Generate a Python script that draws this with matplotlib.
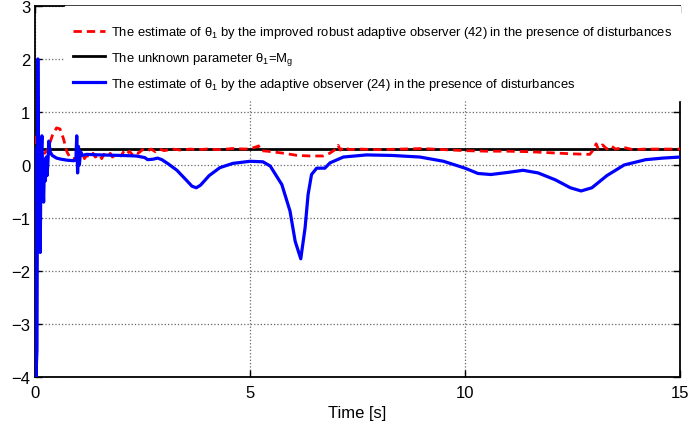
import numpy as np
import matplotlib
matplotlib.use('Agg')
import matplotlib.pyplot as plt

# blue: estimate by the adaptive observer (24)
t_blue = [0.00, 0.02, 0.045, 0.065, 0.085, 0.10, 0.12, 0.14, 0.16, 0.18,
          0.20, 0.22, 0.24, 0.26, 0.28, 0.30, 0.32, 0.35, 0.40, 0.50,
          0.60, 0.75, 0.90, 0.95, 0.97, 0.99, 1.01, 1.03, 1.06, 1.10,
          1.20, 1.50, 2.00, 2.35, 2.55, 2.62, 2.75, 2.85, 2.95, 3.10,
          3.30, 3.50, 3.65, 3.75, 3.85, 4.05, 4.30, 4.60, 5.00, 5.30,
          5.47, 5.74, 5.93, 6.05, 6.18, 6.28, 6.35, 6.43, 6.55, 6.74,
          6.86, 7.17, 7.71, 8.30, 8.95, 9.50, 10.0, 10.3, 10.6, 11.0,
          11.35, 11.7, 12.1, 12.45, 12.7, 12.95, 13.3, 13.7, 14.2, 14.6,
          15.0]
y_blue = [0.30, -4.0, -3.5, 2.0, -0.8, 0.3, -1.65, 0.2, 0.55, -0.3,
          -0.7, 0.1, -0.3, 0.15, -0.2, 0.05, 0.45, 0.25, 0.18, 0.13,
          0.11, 0.09, 0.08, 0.10, 0.55, -0.15, 0.35, 0.0, 0.25, 0.18,
          0.20, 0.19, 0.18, 0.17, 0.14, 0.10, 0.11, 0.13, 0.10, 0.02,
          -0.10, -0.27, -0.40, -0.43, -0.38, -0.20, -0.05, 0.03, 0.07, 0.06,
          -0.02, -0.37, -0.87, -1.44, -1.77, -1.19, -0.56, -0.18, -0.06, -0.06,
          0.04, 0.15, 0.19, 0.18, 0.15, 0.07, -0.06, -0.16, -0.18, -0.14,
          -0.10, -0.15, -0.28, -0.43, -0.49, -0.43, -0.20, 0.0, 0.10, 0.13,
          0.15]

# red: estimate by the improved robust adaptive observer (42)
t_red = [0.0, 0.05, 0.15, 0.3, 0.4, 0.5, 0.58, 0.66, 0.74, 0.82,
         0.9, 1.0, 1.1, 1.15, 1.2, 1.3, 1.35, 1.4, 1.5, 1.55,
         1.6, 1.7, 1.75, 1.8, 1.9, 2.0, 2.05, 2.1, 2.2, 2.25,
         2.3, 2.4, 2.5, 2.6, 2.7, 2.8, 2.9, 3.0, 3.2, 3.4,
         3.6, 3.8, 4.0, 4.3, 4.6, 4.9, 5.1, 5.2, 5.25, 5.4,
         5.6, 5.8, 5.95, 6.1, 6.4, 6.7, 6.85, 7.0, 7.05, 7.1,
         7.2, 7.3, 7.5, 8.0, 8.5, 9.0, 9.5, 10.0, 10.5, 11.0,
         11.5, 12.0, 12.5, 12.9, 13.0, 13.05, 13.1, 13.2, 13.3, 13.4,
         13.5, 13.7, 13.9, 14.2, 15.0]
y_red = [0.55, 0.25, 0.15, 0.30, 0.55, 0.70, 0.68, 0.50, 0.25, 0.13,
         0.12, 0.14, 0.20, 0.12, 0.18, 0.14, 0.22, 0.15, 0.19, 0.12,
         0.20, 0.16, 0.22, 0.15, 0.20, 0.17, 0.24, 0.19, 0.26, 0.20,
         0.25, 0.22, 0.29, 0.26, 0.30, 0.25, 0.30, 0.27, 0.30, 0.28,
         0.30, 0.29, 0.30, 0.29, 0.31, 0.30, 0.33, 0.36, 0.27, 0.26,
         0.24, 0.22, 0.20, 0.18, 0.17, 0.17, 0.22, 0.30, 0.37, 0.28,
         0.34, 0.29, 0.30, 0.29, 0.30, 0.31, 0.29, 0.27, 0.26, 0.26,
         0.25, 0.23, 0.21, 0.20, 0.30, 0.40, 0.30, 0.38, 0.30, 0.36,
         0.30, 0.33, 0.29, 0.30, 0.30]

# black: the unknown parameter
t_true = [0.0, 15.0]
y_true = [0.31, 0.31]

labels = [r'The estimate of $\theta_1$ by the improved robust adaptive observer (42) in the presence of disturbances',
          r'The unknown parameter $\theta_1$=M$_g$',
          r'The estimate of $\theta_1$ by the adaptive observer (24) in the presence of disturbances']

plt.rcParams['font.family'] = ['Liberation Sans', 'DejaVu Sans']
plt.rcParams['mathtext.fontset'] = 'custom'
plt.rcParams['mathtext.rm'] = 'Liberation Sans'
plt.rcParams['mathtext.it'] = 'Liberation Sans'

fig = plt.figure(figsize=(6.91, 4.35), dpi=100)
ax = fig.add_axes([0.0507, 0.131, 0.9334, 0.853])

l1, = ax.plot(t_red, y_red, '--', color='red', lw=2, dashes=(3, 1.8), zorder=3)
l2, = ax.plot(t_true, y_true, '-', color='black', lw=2, zorder=2)
l3, = ax.plot(t_blue, y_blue, '-', color='blue', lw=2.3, zorder=4)

ax.set_xlim(0, 15)
ax.set_ylim(-4, 3)
ax.set_xticks([0, 5, 10, 15])
ax.set_yticks(range(-4, 4))
ax.grid(True, linestyle=':', color='0.4', lw=0.9)
ax.tick_params(direction='in', top=True, right=True, length=5, labelsize=12, width=1)
ax.tick_params(axis='x', pad=6)
for s in ax.spines.values():
    s.set_linewidth(1.3)
ax.set_xlabel('Time [s]', fontsize=12, labelpad=3)

# empty title only pads the top of the legend box
leg = ax.legend([l1, l2, l3], labels, loc='upper right', bbox_to_anchor=(1, 1),
                borderaxespad=0, fancybox=False, framealpha=1, edgecolor='white',
                handlelength=2.5, handletextpad=0.45, labelspacing=0.72, borderpad=0.6,
                fontsize=9.4, title=' ', title_fontsize=1)
leg.set_zorder(5)

fig.savefig('out.png', dpi=100)
